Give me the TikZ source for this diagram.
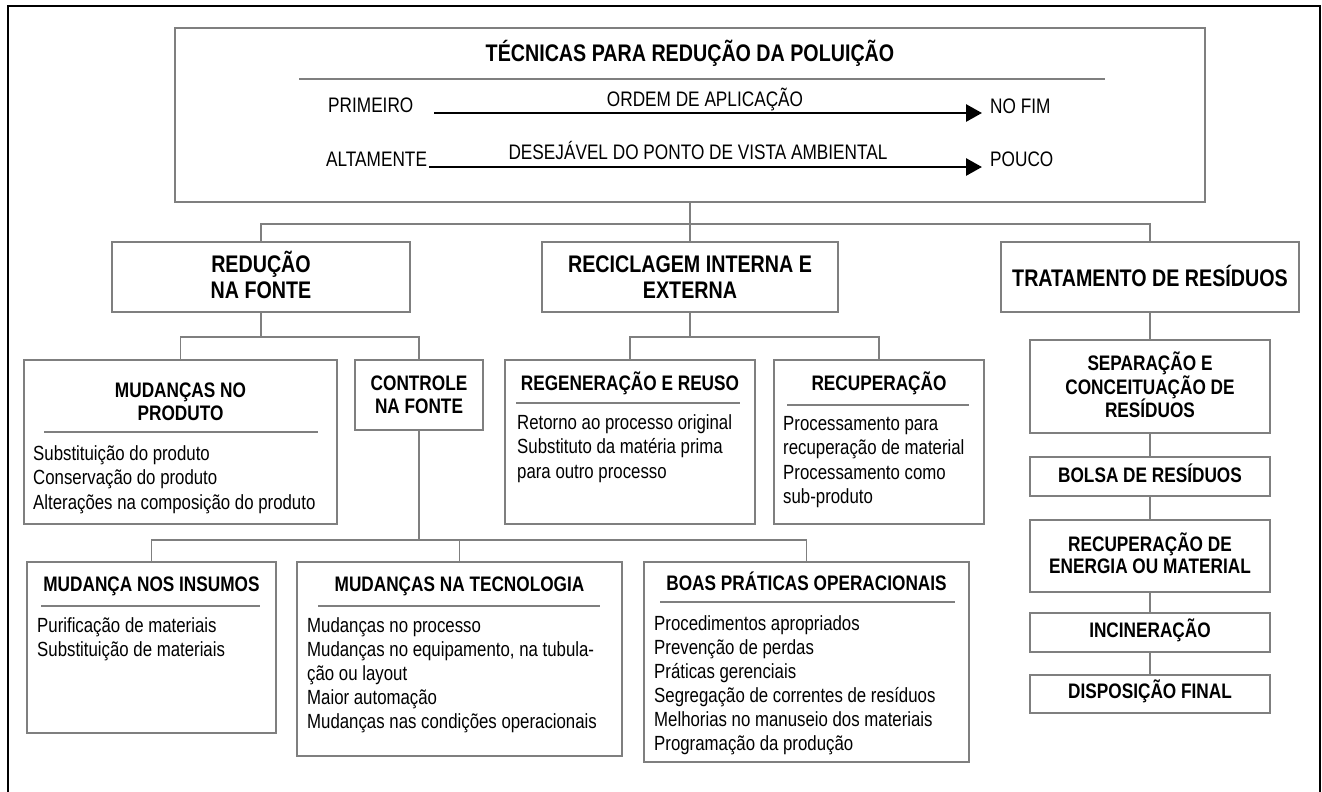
\documentclass[tikz,border=0pt]{standalone}
\usepackage{fontspec}
\setmainfont{Liberation Sans}[FakeStretch=0.82]
\usetikzlibrary{arrows.meta}
\definecolor{boxgray}{HTML}{7F7F7F}
\tikzset{
 box/.style={draw=boxgray, line width=1.6pt, inner sep=0pt, fill=white},
 conn/.style={draw=boxgray, line width=1.6pt},
 rulel/.style={draw=boxgray, line width=1.6pt},
 frame/.style={draw=black, line width=2.4pt},
 arr/.style={draw=black, line width=2.8pt, -{Triangle[length=16pt,width=17pt]}},
 hbig/.style={font=\fontsize{24}{26}\selectfont\bfseries, inner sep=0pt, anchor=base},
 hmid/.style={font=\fontsize{21}{24}\selectfont\bfseries, inner sep=0pt, anchor=base},
 toptxt/.style={font=\fontsize{21}{24}\selectfont, inner sep=0pt},
 body/.style={font=\fontsize{20.5}{24}\selectfont, inner sep=0pt, anchor=base west},
}
\newcommand{\lstlines}[5]{%
 \foreach \t [count=\i] in {#5} {
  \node[body] (#1-\i) at (#2, {#3+(\i-1)*#4}) {\t};
 }%
}
\begin{document}
\begin{tikzpicture}[x=1pt,y=-1pt]
\useasboundingbox (0,0) rectangle (1322,792);
\draw[frame] (8,792) -- (8,6) -- (1320,6) -- (1320,792);

% boxes
\node[box, minimum width=1030pt, minimum height=174pt] (top) at (690,115) {};
\node[box, minimum width=298pt, minimum height=70pt] (red) at (261,277) {};
\node[box, minimum width=296pt, minimum height=70pt] (rec) at (690,277) {};
\node[box, minimum width=298pt, minimum height=70pt] (tra) at (1150,277) {};
\node[box, minimum width=313pt, minimum height=164pt] (prod) at (180.5,442) {};
\node[box, minimum width=128pt, minimum height=70pt] (ctrl) at (419,395) {};
\node[box, minimum width=250pt, minimum height=164pt] (regen) at (630,442) {};
\node[box, minimum width=210pt, minimum height=164pt] (recup) at (879,442) {};
\node[box, minimum width=240pt, minimum height=93pt] (sep) at (1150,386.5) {};
\node[box, minimum width=240pt, minimum height=39pt] (bolsa) at (1150,476.5) {};
\node[box, minimum width=240pt, minimum height=72pt] (ener) at (1150,556) {};
\node[box, minimum width=240pt, minimum height=39pt] (inc) at (1150,632.5) {};
\node[box, minimum width=240pt, minimum height=38pt] (disp) at (1150,694) {};
\node[box, minimum width=249pt, minimum height=171pt] (ins) at (151.5,647.5) {};
\node[box, minimum width=325pt, minimum height=194pt] (tec) at (459.5,659) {};
\node[box, minimum width=325pt, minimum height=200pt] (boas) at (806.5,662) {};

% connectors
\draw[conn] (top.south) -- ++(0,21) coordinate (j1);
\draw[conn] (red.north) |- (j1) -| (tra.north);
\draw[conn] (j1) -- (rec.north);
\draw[conn] (red.south) -- ++(0,24) coordinate (j2);
\draw[conn] (prod.north) |- (j2) -| (ctrl.north);
\draw[conn] (rec.south) -- ++(0,24) coordinate (j3);
\draw[conn] (regen.north) |- (j3) -| (recup.north);
\draw[conn] (tra.south) -- (sep.north);
\draw[conn] (sep.south) -- (bolsa.north);
\draw[conn] (bolsa.south) -- (ener.north);
\draw[conn] (ener.south) -- (inc.north);
\draw[conn] (inc.south) -- (disp.north);
\draw[conn] (ctrl.south) -- ++(0,109) coordinate (j4);
\draw[conn] (ins.north) |- (j4) -| (boas.north);
\draw[conn] (tec.north) -- (tec.north |- j4);

% top box content
\node[hbig] (title) at (690,62) {TÉCNICAS PARA REDUÇÃO DA POLUIÇÃO};
\draw[rulel] (299,79) -- (1105,79);
\node[toptxt, anchor=base west] (prim) at (328,112) {PRIMEIRO};
\node[toptxt, anchor=base] (ordem) at (705,106) {ORDEM DE APLICAÇÃO};
\node[toptxt, anchor=base west] (fim) at (990,113) {NO FIM};
\node[toptxt, anchor=base west] (alta) at (326,166) {ALTAMENTE};
\node[toptxt, anchor=base] (desej) at (698,159) {DESEJÁVEL DO PONTO DE VISTA AMBIENTAL};
\node[toptxt, anchor=base west] (pouco) at (990,166) {POUCO};
\coordinate (a1s) at (434,113);
\coordinate (a1e) at (982,113);
\coordinate (a2s) at (429,167);
\coordinate (a2e) at (982,167);
\draw[arr] (a1s) -- (a1e);
\draw[arr] (a2s) -- (a2e);

% level 2
\node[hbig] (redT1) at (261,272) {REDUÇÃO};
\node[hbig] (redT2) at (261,298) {NA FONTE};
\node[hbig] (recT1) at (690,272) {RECICLAGEM INTERNA E};
\node[hbig] (recT2) at (690,298) {EXTERNA};
\node[hbig] (traT) at (1150,286) {TRATAMENTO DE RESÍDUOS};

% level 3
\node[hmid] (prodT1) at (180.5,397) {MUDANÇAS NO};
\node[hmid] (prodT2) at (180.5,420) {PRODUTO};
\draw[rulel] (44,432) -- (318,432);
\lstlines{prodL}{33}{460}{24.5}{Substituição do produto,Conservação do produto,Alterações na composição do produto}

\node[hmid] (ctrlT1) at (419,390) {CONTROLE};
\node[hmid] (ctrlT2) at (419,413) {NA FONTE};

\node[hmid] (regenT) at (630,390) {REGENERAÇÃO E REUSO};
\draw[rulel] (516,403) -- (740,403);
\lstlines{regenL}{517}{429}{24.5}{Retorno ao processo original,Substituto da matéria prima,para outro processo}

\node[hmid] (recupT) at (879,390) {RECUPERAÇÃO};
\draw[rulel] (787,405) -- (969,405);
\lstlines{recupL}{783}{430}{24.5}{Processamento para,recuperação de material,Processamento como,sub-produto}

% waste chain
\node[hmid] (sepT1) at (1150,370) {SEPARAÇÃO E};
\node[hmid] (sepT2) at (1150,394) {CONCEITUAÇÃO DE};
\node[hmid] (sepT3) at (1150,417) {RESÍDUOS};
\node[hmid] (bolsaT) at (1150,482) {BOLSA DE RESÍDUOS};
\node[hmid] (enerT1) at (1150,551) {RECUPERAÇÃO DE};
\node[hmid] (enerT2) at (1150,573) {ENERGIA OU MATERIAL};
\node[hmid] (incT) at (1150,637) {INCINERAÇÃO};
\node[hmid] (dispT) at (1150,698) {DISPOSIÇÃO FINAL};

% level 4
\node[hmid] (insT) at (151.5,591) {MUDANÇA NOS INSUMOS};
\draw[rulel] (41,606) -- (260,606);
\lstlines{insL}{37}{632}{24.5}{Purificação de materiais,Substituição de materiais}

\node[hmid] (tecT) at (459.5,591) {MUDANÇAS NA TECNOLOGIA};
\draw[rulel] (318,606) -- (600,606);
\lstlines{tecL}{307}{632}{24}{Mudanças no processo,{Mudanças no equipamento, na tubula-},ção ou layout,Maior automação,Mudanças nas condições operacionais}

\node[hmid] (boasT) at (806.5,590) {BOAS PRÁTICAS OPERACIONAIS};
\draw[rulel] (660,602) -- (955,602);
\lstlines{boasL}{654}{630}{24}{Procedimentos apropriados,Prevenção de perdas,Práticas gerenciais,Segregação de correntes de resíduos,Melhorias no manuseio dos materiais,Programação da produção}
\end{tikzpicture}
\end{document}
